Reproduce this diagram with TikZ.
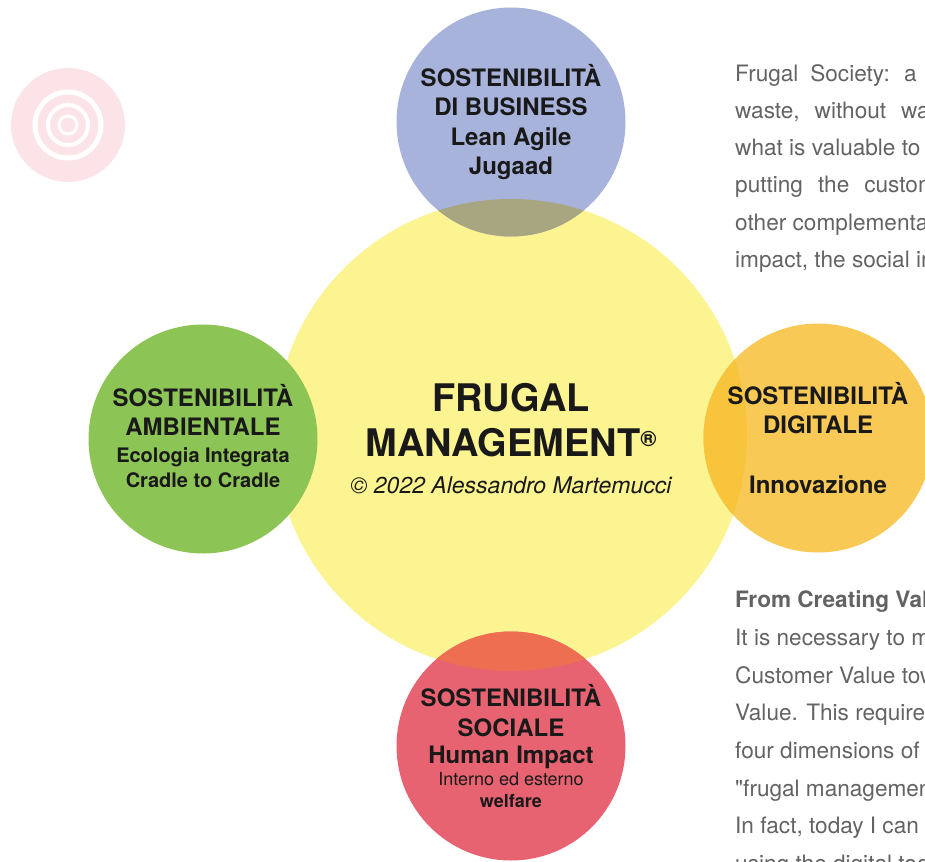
\documentclass[tikz,border=0pt]{standalone}
\usepackage{fontspec}
\setmainfont{TeX Gyre Heros}
\usepackage{xcolor}
\usepackage{tikz}
\usetikzlibrary{positioning}

\definecolor{coreyellow}{HTML}{FCF391}
\definecolor{bizblue}{HTML}{A7B3DB}
\definecolor{bizover}{HTML}{A8A680}
\definecolor{envgreen}{HTML}{8DC456}
\definecolor{diggold}{HTML}{F8CA55}
\definecolor{digover}{HTML}{F8C43C}
\definecolor{socred}{HTML}{E86371}
\definecolor{socover}{HTML}{EE6E52}
\definecolor{targetpink}{HTML}{FCE3E7}
\definecolor{txtgray}{HTML}{636363}

\begin{document}
\begin{tikzpicture}[x=1pt, y=-1pt,
                    core/.style={circle, minimum size=472pt, inner sep=0pt, fill=coreyellow},
                    sat/.style={circle, minimum size=229pt, inner sep=0pt},
                    sattext/.style={align=center, inner sep=0pt, text=black!90,
                                    font=\bfseries\fontsize{24}{29.5}\selectfont},
                    bodytext/.style={anchor=base west, inner sep=0pt, text=txtgray,
                                     font=\fontsize{22.6}{26}\selectfont},
                   ]

\useasboundingbox (0,0) rectangle (925,861);
\clip (0,0) rectangle (925,861);

% target mark
\fill[targetpink] (68,125) circle[radius=57pt];
\draw[white, line width=5pt] (68,125) circle[radius=33pt];
\draw[white, line width=4pt] (68,125) circle[radius=20pt];
\draw[white, line width=3pt] (68,125) circle[radius=9pt];

% circles
\node[core] (core) at (511,435) {};
\node[sat, fill=bizblue] (biz) at (511,122) {};
\node[sat, fill=envgreen] (env) at (203,439) {};
\node[sat, fill=diggold] (dig) at (818,438) {};
\node[sat, fill=socred] (soc) at (511,746) {};

\begin{scope}
\clip (core.center) circle[radius=236pt];
\fill[bizover] (biz.center) circle[radius=114.5pt];
\fill[digover] (dig.center) circle[radius=114.5pt];
\fill[socover] (soc.center) circle[radius=114.5pt];
\end{scope}

% labels
\node[sattext] (biztext) at (biz) {SOSTENIBILIT\`A\\DI BUSINESS\\Lean Agile\\Jugaad};
\node[sattext, yshift=3pt] (envtext) at (env) {SOSTENIBILIT\`A\\AMBIENTALE\\[-2.5pt]
  {\fontsize{20}{24}\selectfont Ecologia Integrata}\\[-4.5pt]
  {\fontsize{20}{24}\selectfont Cradle to Cradle}};
\node[sattext] (digtext) at (dig) {SOSTENIBILIT\`A\\DIGITALE\\[30pt]Innovazione};
\node[sattext] (soctext) at (soc) {SOSTENIBILIT\`A\\SOCIALE\\[-2.5pt]Human Impact\\[-7.5pt]
  {\mdseries\fontsize{18}{22}\selectfont Interno ed esterno}\\[-7.5pt]
  {\fontsize{18}{22}\selectfont welfare}};

\node[align=center, inner sep=0pt, text=black!90, font=\bfseries\fontsize{38}{45}\selectfont,
      yshift=-4pt] (title) at (core)
  {FRUGAL\\MANAGEMENT\raisebox{10pt}{\fontsize{22}{22}\selectfont ®}\\[-8pt]
   {\mdseries\itshape\fontsize{23}{28}\selectfont © 2022 Alessandro Martemucci}};

% side text
\node[bodytext] (p1) at (735,82) {\spaceskip=12pt Frugal Society: a lifestyle};
\node[bodytext] (p2) at (735,119) {\spaceskip=15pt waste, without waste};
\node[bodytext] (p3) at (735,156) {what is valuable to};
\node[bodytext] (p4) at (735,193) {\spaceskip=15pt putting the customer};
\node[bodytext] (p5) at (735,230) {other complementary};
\node[bodytext] (p6) at (735,267) {impact, the social impact};

\node[bodytext, font=\bfseries\fontsize{22.6}{26}\selectfont] (q1) at (735,607) {From Creating Value};
\node[bodytext] (q2) at (735,645) {It is necessary to move};
\node[bodytext] (q3) at (735,683) {Customer Value towards};
\node[bodytext] (q4) at (735,720) {Value. This requires};
\node[bodytext] (q5) at (735,758) {four dimensions of};
\node[bodytext] (q6) at (735,796) {\textquotedbl frugal management\textquotedbl};
\node[bodytext] (q7) at (735,833) {In fact, today I can};
\node[bodytext] (q8) at (735,871) {using the digital tools};

\end{tikzpicture}
\end{document}
